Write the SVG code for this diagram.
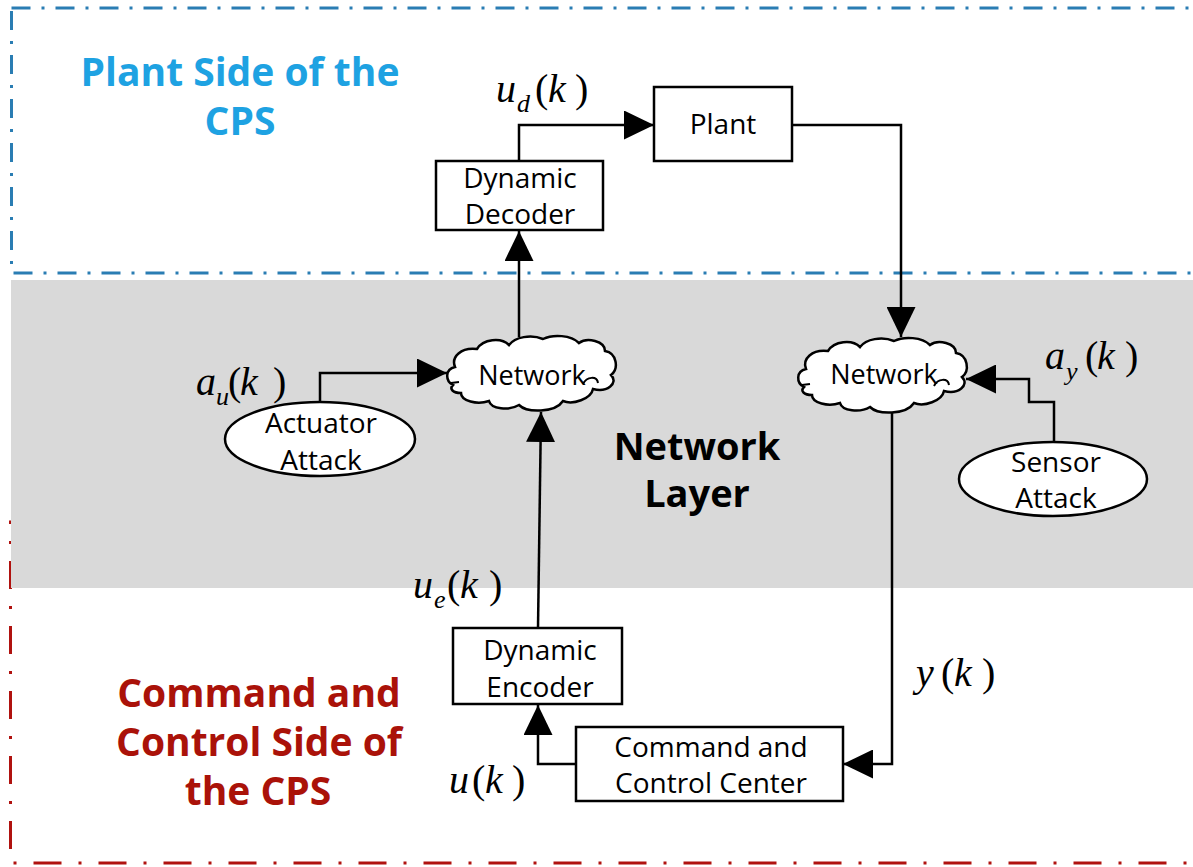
<svg xmlns="http://www.w3.org/2000/svg" width="1193" height="867" viewBox="0 0 1193 867">
<style>
.box{fill:#fff;stroke:#000;stroke-width:2.5}
.lbl{font-family:"Open Sans","Noto Sans",sans-serif;font-size:28px;fill:#000;text-anchor:middle}
.ttl{font-family:"Open Sans","Noto Sans",sans-serif;font-weight:bold;font-size:39px;text-anchor:middle}
.math{font-family:"Liberation Serif","Times New Roman",serif;font-size:40px;fill:#000}
.it{font-style:italic}
.sub{font-size:26px;font-style:italic}
.conn{fill:none;stroke:#000;stroke-width:2.5;marker-end:url(#ah)}
</style>
<defs>
<marker id="ah" markerUnits="userSpaceOnUse" markerWidth="30" markerHeight="29" refX="30" refY="14.5" orient="auto" viewBox="0 0 30 29">
<path d="M0,0 L30,14.5 L0,29 Z" fill="#000"/>
</marker>
<g id="cloud">
<path d="M6,50 C-2,46 -2,34 8,32 C4,22 14,12 30,14 C36,4 54,2 62,10 C68,2 84,-1 96,4 C106,-1 124,0 132,8 C140,2 158,6 158,16 C170,18 172,34 164,40 C172,48 160,58 146,54 C144,64 126,70 116,66 C108,78 80,78 72,70 C62,76 44,74 42,66 C30,70 14,66 14,58 C6,58 2,54 6,50 Z" fill="#fff" stroke="#000" stroke-width="2.5"/>
<path d="M136,49 C140,41 150,41 151,48 M4,48 L12,47" fill="none" stroke="#000" stroke-width="2"/>
</g>
</defs>
<rect width="1193" height="867" fill="#fff"/>
<g id="regions">
<rect x="10.5" y="522" width="1220" height="341" fill="none" stroke="#b0120f" stroke-width="3" stroke-dasharray="28 17 3 17"/>
<rect x="11.5" y="8" width="1220" height="265" fill="none" stroke="#2a7db3" stroke-width="3" stroke-dasharray="19 11 3 11"/>
<rect x="11" y="280" width="1182" height="308" fill="#d9d9d9"/>
<text class="ttl" fill="#1ea2e2"><tspan x="240" y="86">Plant Side of the</tspan><tspan x="240" y="135">CPS</tspan></text>
<text class="ttl" fill="#000" style="font-size:38px"><tspan x="697" y="460">Network</tspan><tspan x="697" y="507">Layer</tspan></text>
<text class="ttl" fill="#aa1209"><tspan x="259" y="707">Command and</tspan><tspan x="259" y="756">Control Side of</tspan><tspan x="258" y="805">the CPS</tspan></text>
</g>
<g id="connectors">
<path class="conn" d="M519,161 V125 H654"/>
<path class="conn" d="M792,125 H901 V337"/>
<path class="conn" d="M519,337 V231"/>
<path class="conn" d="M320,402 V373 H447"/>
<path class="conn" d="M538,628 L541,412"/>
<path class="conn" d="M892,412 V764 H843"/>
<path class="conn" d="M1054,442 V402 H1029 V379 H966"/>
<path class="conn" d="M576,764 H538 V705"/>
</g>
<g id="plant">
<rect class="box" x="654" y="87" width="138" height="74"/>
<text class="lbl" x="723" y="134">Plant</text>
</g>
<g id="decoder">
<rect class="box" x="436" y="161" width="167" height="69"/>
<text class="lbl"><tspan x="520" y="188">Dynamic</tspan><tspan x="520" y="224">Decoder</tspan></text>
</g>
<g id="network-left">
<use href="#cloud" x="447" y="335"/>
<text class="lbl" x="532" y="385" style="font-size:27px">Network</text>
</g>
<g id="network-right">
<use href="#cloud" x="798" y="337"/>
<text class="lbl" x="884" y="384" style="font-size:27px">Network</text>
</g>
<g id="actuator-attack">
<ellipse class="box" cx="320" cy="439" rx="95" ry="37"/>
<text class="lbl"><tspan x="321" y="433">Actuator</tspan><tspan x="321" y="470">Attack</tspan></text>
</g>
<g id="sensor-attack">
<ellipse class="box" cx="1053" cy="479" rx="94" ry="37"/>
<text class="lbl"><tspan x="1056" y="472">Sensor</tspan><tspan x="1056" y="508">Attack</tspan></text>
</g>
<g id="encoder">
<rect class="box" x="453" y="628" width="169" height="76"/>
<text class="lbl"><tspan x="540" y="660">Dynamic</tspan><tspan x="540" y="697">Encoder</tspan></text>
</g>
<g id="command-center">
<rect class="box" x="576" y="727" width="267" height="74"/>
<text class="lbl"><tspan x="711" y="757">Command and</tspan><tspan x="711" y="793">Control Center</tspan></text>
</g>
<g id="labels">
<text class="math"><tspan class="it" x="496" y="102">u</tspan><tspan class="sub" x="517" y="112">d</tspan><tspan x="535" y="102">(</tspan><tspan class="it" x="548" y="102">k</tspan><tspan x="575" y="102">)</tspan></text>
<text class="math"><tspan class="it" x="196" y="395">a</tspan><tspan class="sub" x="216" y="405">u</tspan><tspan x="228" y="395">(</tspan><tspan class="it" x="240" y="395">k</tspan><tspan x="273" y="395">)</tspan></text>
<text class="math"><tspan class="it" x="1045" y="369">a</tspan><tspan class="sub" x="1066" y="380">y</tspan><tspan x="1085" y="369">(</tspan><tspan class="it" x="1097" y="369">k</tspan><tspan x="1125" y="369">)</tspan></text>
<text class="math"><tspan class="it" x="413" y="598">u</tspan><tspan class="sub" x="434" y="608">e</tspan><tspan x="447" y="598">(</tspan><tspan class="it" x="460" y="598">k</tspan><tspan x="489" y="598">)</tspan></text>
<text class="math"><tspan class="it" x="916" y="686">y</tspan><tspan x="941" y="686">(</tspan><tspan class="it" x="954" y="686">k</tspan><tspan x="982" y="686">)</tspan></text>
<text class="math"><tspan class="it" x="449" y="793">u</tspan><tspan x="472" y="793">(</tspan><tspan class="it" x="485" y="793">k</tspan><tspan x="512" y="793">)</tspan></text>
</g>
</svg>
